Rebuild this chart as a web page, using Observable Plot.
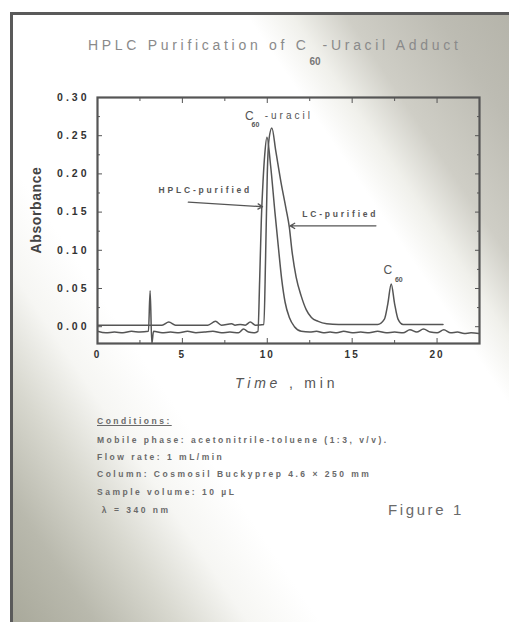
<!DOCTYPE html>
<html>
<head>
<meta charset="utf-8">
<script src="https://cdn.jsdelivr.net/npm/d3@7"></script>
<script src="https://cdn.jsdelivr.net/npm/@observablehq/plot@0.6"></script>
<style>
  html, body { margin: 0; padding: 0; background: #fff; }
  #page { position: relative; width: 509px; height: 622px; overflow: hidden; font-family: "Liberation Sans", Arial, sans-serif; }
  #paper { position: absolute; left: 10px; top: 12px; width: 499px; height: 610px;
    border-left: 3px solid #5a5a5a; border-top: 3px solid #5a5a5a; box-sizing: border-box;
    background: linear-gradient(56deg, #a9a99b 0%, #b9b9ad 9%, #d8d8cf 18%, #f6f6f3 26%, #ffffff 34%, #ffffff 71%, #f0f0eb 76%, #cfcec6 82%, #bdbcb3 92%, #b5b4aa 100%); }
  #chart { position: absolute; left: 0; top: 0; }
  .abs { position: absolute; white-space: nowrap; }
  #title { left: 88px; top: 37px; font-size: 14px; letter-spacing: 3.7px; color: #8a8a8a; }
  #title .sub { position: relative; top: 15px; font-size: 10px; font-weight: bold; letter-spacing: 0; color: #777; margin-right: 2px; }
  #ylab { left: 36px; top: 210px; transform: translate(-50%, -50%) rotate(-90deg); font-size: 14px; font-weight: bold; color: #444; letter-spacing: 0.6px; }
  #xlab { left: 235px; top: 375px; font-size: 14px; letter-spacing: 3.8px; color: #555; }
  .cond { left: 97px; font-size: 8.5px; font-weight: bold; letter-spacing: 2.5px; color: #6a6a6a; }
  #fig { left: 388px; top: 501px; font-size: 15px; letter-spacing: 2.6px; color: #6a6a6a; }
</style>
</head>
<body>
<div id="page">
  <div id="paper"></div>
  <div id="chart"></div>
  <div class="abs" id="title">HPLC Purification of C<span class="sub">60</span>-Uracil Adduct</div>
  <div class="abs" id="ylab">Absorbance</div>
  <div class="abs" id="xlab"><i>Time</i> , min</div>
  <div class="abs cond" style="top:416px;text-decoration:underline;">Conditions:</div>
  <div class="abs cond" style="top:435px;">Mobile phase: acetonitrile-toluene (1:3, v/v).</div>
  <div class="abs cond" style="top:452px;">Flow rate: 1 mL/min</div>
  <div class="abs cond" style="top:469px;">Column: Cosmosil Buckyprep 4.6 × 250 mm</div>
  <div class="abs cond" style="top:487px;">Sample volume: 10 µL</div>
  <div class="abs cond" style="top:505px;">&nbsp;λ = 340 nm</div>
  <div class="abs" id="fig">Figure 1</div>
</div>
<script>
// ---- data (time in min, absorbance) ----
const hplcTime = [0, 0.5, 1, 1.5, 2, 2.5, 3.0, 3.1, 3.2, 3.3, 3.8, 4.3, 4.8, 5.3, 5.8, 6.3, 6.8, 7.3, 7.8, 8.3, 8.6, 8.9, 9.2, 9.45,
  9.55, 9.65, 9.75, 9.85, 9.98, 10.2, 10.45, 10.65, 10.85, 11.05, 11.3, 11.6, 12.0, 12.5, 12.9, 13.3, 13.7, 14.1, 14.5, 15.0, 15.5,
  16.0, 16.5, 17.0, 17.5, 18.0, 18.4, 18.8, 19.2, 19.6, 20.0, 20.4, 20.8, 21.2, 21.6, 22.0, 22.5];
const hplcAbs = [-0.006, -0.008, -0.007, -0.008, -0.006, -0.007, -0.006, 0.047, -0.022, -0.006, -0.008, -0.007, -0.008, -0.006,
  -0.008, -0.007, -0.006, -0.008, -0.007, -0.008, -0.003, -0.007, -0.008, -0.006,
  0.06, 0.14, 0.19, 0.225, 0.248, 0.21, 0.15, 0.105, 0.062, 0.032, 0.012, 0.0, -0.006, -0.007, -0.006, -0.008, -0.007, -0.008,
  -0.006, -0.008, -0.007, -0.008, -0.006, -0.008, -0.007, -0.008, -0.004, -0.007, -0.003, -0.007, -0.008, -0.004, -0.008,
  -0.007, -0.009, -0.008, -0.009];

const lcTime = [0, 1, 2, 3, 3.8, 4.2, 4.6, 5.5, 6.5, 6.95, 7.3, 7.9, 8.1, 8.4, 8.7, 9.0, 9.3, 9.8,
  9.9, 10.0, 10.1, 10.27, 10.5, 10.8, 11.1, 11.3, 11.45, 11.7, 12.0, 12.3, 12.6, 13.0, 13.5, 14.2, 15.5,
  16.5, 16.9, 17.1, 17.3, 17.5, 17.7, 18.0, 19.0, 20.35];
const lcAbs = [0.002, 0.002, 0.002, 0.002, 0.002, 0.006, 0.002, 0.002, 0.002, 0.007, 0.002, 0.004, 0.002, 0.003, 0.002, 0.006, 0.002, 0.003,
  0.09, 0.2, 0.245, 0.26, 0.23, 0.19, 0.155, 0.13, 0.1, 0.065, 0.04, 0.022, 0.012, 0.007, 0.004, 0.003, 0.003,
  0.003, 0.01, 0.03, 0.056, 0.03, 0.01, 0.003, 0.003, 0.003];

const xTicks = [0, 5, 10, 15, 20];
const xMinor = [2.5, 7.5, 12.5, 17.5, 22.5];
const yTicks = [0, 0.05, 0.10, 0.15, 0.20, 0.25, 0.30];
const yMinor = [0.025, 0.075, 0.125, 0.175, 0.225, 0.275];

// annotations
const labels = ["HPLC-purified", "LC-purified"];
const labelTime = [6.35, 14.3];
const labelAbs = [0.178, 0.147];
const arrowFromTime = [5.35, 16.4];
const arrowFromAbs = [0.163, 0.132];
const arrowToTime = [9.72, 11.35];
const arrowToAbs = [0.157, 0.132];

const hplc = hplcTime.map((t, i) => ({t, a: hplcAbs[i]}));
const lc = lcTime.map((t, i) => ({t, a: lcAbs[i]}));
const ann = labels.map((l, i) => ({l, t: labelTime[i], a: labelAbs[i]}));
const arrows = labels.map((l, i) => ({x1: arrowFromTime[i], y1: arrowFromAbs[i], x2: arrowToTime[i], y2: arrowToAbs[i]}));
const blank = () => "";
const ink = "#555";

const chart = Plot.plot({
  width: 509,
  height: 400,
  marginLeft: 97,
  marginRight: 30,
  marginTop: 97,
  marginBottom: 57,
  style: {background: "transparent", fontFamily: "Liberation Sans, Arial, sans-serif", overflow: "visible"},
  x: {domain: [0, 22.5]},
  y: {domain: [-0.022, 0.30]},
  marks: [
    Plot.axisX(xTicks, {anchor: "bottom", tickSize: 0, tickPadding: 7, tickFormat: d3.format("d"), fontSize: 10, fontWeight: "bold", fill: "#333", label: null}),
    Plot.axisX(xTicks, {anchor: "bottom", tickSize: -5, tickFormat: blank, stroke: ink, label: null}),
    Plot.axisX(xMinor, {anchor: "bottom", tickSize: -3, tickFormat: blank, stroke: ink, label: null}),
    Plot.axisX(xTicks, {anchor: "top", tickSize: -5, tickFormat: blank, stroke: ink, label: null}),
    Plot.axisX(xMinor, {anchor: "top", tickSize: -3, tickFormat: blank, stroke: ink, label: null}),
    Plot.axisY(yTicks, {anchor: "left", tickSize: 0, tickPadding: 8, tickFormat: d3.format(".2f"), fontSize: 10.5, fontWeight: "bold", fill: "#333", label: null}),
    Plot.axisY(yTicks, {anchor: "left", tickSize: -5, tickFormat: blank, stroke: ink, label: null}),
    Plot.axisY(yMinor, {anchor: "left", tickSize: -3, tickFormat: blank, stroke: ink, label: null}),
    Plot.axisY(yTicks, {anchor: "right", tickSize: -5, tickFormat: blank, stroke: ink, label: null}),
    Plot.axisY(yMinor, {anchor: "right", tickSize: -3, tickFormat: blank, stroke: ink, label: null}),
    Plot.frame({stroke: ink, strokeWidth: 2.2}),
    Plot.line(lc, {x: "t", y: "a", stroke: ink, strokeWidth: 1.5, curve: "monotone-x", clip: true}),
    Plot.line(hplc, {x: "t", y: "a", stroke: ink, strokeWidth: 1.5, curve: "monotone-x", clip: true}),
    Plot.arrow(arrows, {x1: "x1", y1: "y1", x2: "x2", y2: "y2", stroke: ink, strokeWidth: 1.3, headLength: 6}),
    Plot.text(ann, {x: "t", y: "a", text: "l", fontSize: 8.5, fontWeight: "bold", fill: "#555"}),
    Plot.text([{t: 8.95, a: 0.276}], {x: "t", y: "a", text: () => "C", fontSize: 12, fill: "#555"}),
    Plot.text([{t: 9.3, a: 0.264}], {x: "t", y: "a", text: () => "60", fontSize: 7, fontWeight: "bold", fill: "#555"}),
    Plot.text([{t: 9.85, a: 0.276}], {x: "t", y: "a", text: () => "-uracil", fontSize: 10, fill: "#555", textAnchor: "start"}),
    Plot.text([{t: 17.1, a: 0.074}], {x: "t", y: "a", text: () => "C", fontSize: 12, fill: "#555"}),
    Plot.text([{t: 17.75, a: 0.061}], {x: "t", y: "a", text: () => "60", fontSize: 7, fontWeight: "bold", fill: "#555"})
  ]
});
// letter spacing of the scanned typography
const svg = d3.select(chart);
svg.selectAll('g[aria-label="y-axis tick label"] text').attr("letter-spacing", 3);
svg.selectAll('g[aria-label="x-axis tick label"] text').attr("letter-spacing", 2);
svg.selectAll("text").filter(function () {
  const s = this.textContent;
  return labels.includes(s);
}).attr("letter-spacing", 2.8);
svg.selectAll("text").filter(function () { return this.textContent === "-uracil"; }).attr("letter-spacing", 3);
document.getElementById("chart").appendChild(chart);
</script>
</body>
</html>
